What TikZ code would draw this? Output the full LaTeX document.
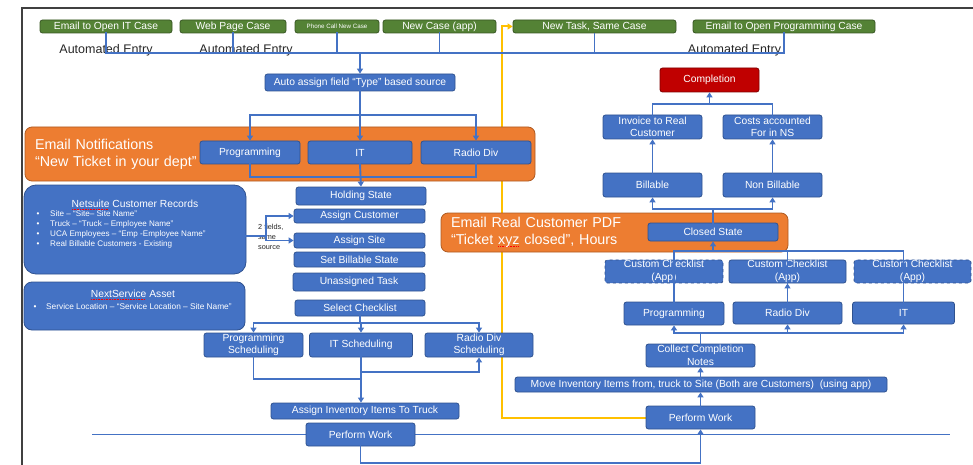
\documentclass[tikz,border=0pt]{standalone}
\usepackage{fontspec}
\setmainfont{Liberation Sans}
\usetikzlibrary{arrows.meta,backgrounds}
\definecolor{bfill}{HTML}{4472C4}
\definecolor{bborder}{HTML}{2F528F}
\definecolor{gfill}{HTML}{548235}
\definecolor{gborder}{HTML}{385723}
\definecolor{ofill}{HTML}{ED7D31}
\definecolor{oborder}{HTML}{AE5A21}
\definecolor{rfill}{HTML}{C00000}
\definecolor{rborder}{HTML}{7F0000}
\definecolor{lnc}{HTML}{4472C4}
\definecolor{yelc}{HTML}{FFC000}
\definecolor{framec}{HTML}{404040}
\definecolor{lblc}{HTML}{262626}
\newsavebox\spchkbox
\newcommand\spchk[1]{\sbox\spchkbox{#1}\rlap{\hbox to \wd\spchkbox{\color{red}\leaders\hbox to 1.6pt{\hss\rule[-2.4pt]{0.9pt}{0.8pt}\hss}\hfil}}\usebox\spchkbox}
\begin{document}
\begin{tikzpicture}[x=1pt,y=-1pt,
  box/.style={draw=bborder, fill=bfill, line width=0.8pt, rounded corners=2.5pt, text=white,
    font=\fontsize{10.3}{12.5}\selectfont, inner xsep=1pt, inner ysep=0.5pt, align=center},
  sz/.style n args={2}{minimum width=#1pt, minimum height=#2pt},
  gbox/.style={box, draw=gborder, fill=gfill},
  rbox/.style={box, draw=rborder, fill=rfill},
  dbox/.style={box, dashed},
  obox/.style={draw=oborder, fill=ofill, line width=0.8pt, rounded corners=7pt, text=white,
    font=\fontsize{14.3}{17}\selectfont, align=left, inner xsep=10pt, inner ysep=0pt},
  lbl/.style={text=lblc, font=\fontsize{12.5}{14}\selectfont, inner sep=0pt},
  small/.style={text=lblc, font=\fontsize{7.3}{10}\selectfont, inner sep=0pt, align=left},
  ln/.style={draw=lnc, line width=1.9pt, line cap=rect},
  thinln/.style={draw=lnc, line width=1pt},
  arr/.style={ln, -{Triangle[length=5pt,width=6pt]}},
  yel/.style={draw=yelc, line width=2pt, -{Triangle[length=5pt,width=6pt]}},
]
\useasboundingbox (0,0) rectangle (973,465);

% ---- top row
\node[gbox, sz={132}{13}] (g1) at (106,26.5) {Email to Open IT Case};
\node[gbox, sz={106}{13}] (g2) at (233,26.5) {Web Page Case};
\node[gbox, sz={84}{13}, font=\fontsize{6.2}{7}\selectfont] (g3) at (337,26.5) {Phone Call New Case};
\node[gbox, sz={113}{13}] (g4) at (439.5,26.5) {New Case (app)};
\node[gbox, sz={163}{13}] (g5) at (594.5,26.5) {New Task, Same Case};
\node[gbox, sz={182}{13}] (g6) at (784,26.5) {Email to Open Programming Case};

\node[lbl] (ae1) at (106,50) {Automated Entry};
\node[lbl] (ae2) at (246,50) {Automated Entry};
\node[lbl] (ae3) at (734.5,50) {Automated Entry};

\node[box, sz={190}{17}] (auto) at (360,82.5) {Auto assign field “Type” based source};

% ---- orange boxes
\node[obox, sz={510}{54}, text width=490pt] (en) at (280,154) {Email Notifications\\“New Ticket in your dept”};
\node[obox, sz={347}{39}, text width=327pt] (ercp) at (614.5,232.5) {Email Real Customer PDF\\“Ticket \spchk{xyz} closed”, Hours};

\node[box, sz={100}{23}] (prog1) at (250,152.5) {Programming};
\node[box, sz={104}{23}] (it1) at (360,152.5) {IT};
\node[box, sz={110}{23}] (radio1) at (476,152.5) {Radio Div};

% ---- left column
\node[box, sz={130}{18}] (hold) at (361,196) {Holding State};
\node[box, sz={131}{14}] (acust) at (359.5,216) {Assign Customer};
\node[box, sz={131}{15}] (asite) at (359.5,240.5) {Assign Site};
\node[box, sz={131}{15}] (setbill) at (359.5,259.5) {Set Billable State};
\node[box, sz={132}{18}] (unas) at (359,282) {Unassigned Task};
\node[box, sz={130}{16}] (selcl) at (360,308) {Select Checklist};

\node[box, rounded corners=12pt, sz={222}{89}] (ns) at (135,229.5) {};
\node[text=white, font=\fontsize{10.3}{12}\selectfont, inner sep=0pt, anchor=base] (nst) at (135,207) {\spchk{Netsuite} Customer Records};
\node[text=white, font=\fontsize{8.1}{10}\selectfont, inner sep=0pt, anchor=north west, align=left] (nsb) at (36.5,210.8)
 {\makebox[13.5pt][l]{•}Site – “Site– Site Name”\\
  \makebox[13.5pt][l]{•}Truck – “Truck – Employee Name”\\
  \makebox[13.5pt][l]{•}UCA Employees – “Emp -Employee Name”\\
  \makebox[13.5pt][l]{•}Real Billable Customers - Existing};

\node[box, rounded corners=8pt, sz={221}{48}] (nx) at (134.5,306) {};
\node[text=white, font=\fontsize{10.3}{12}\selectfont, inner sep=0pt, anchor=base] (nxt) at (133,297.5) {\spchk{NextService} Asset};
\node[text=white, font=\fontsize{8.3}{10}\selectfont, inner sep=0pt, anchor=north west, align=left] (nxb) at (33.5,303)
 {\makebox[12.5pt][l]{•}Service Location – “Service Location – Site Name”};

\node[small, anchor=north west] (twof) at (258,224.3) {2 fields,\\same\\source};

\node[box, sz={99}{24}] (ps) at (253.5,345) {Programming\\Scheduling};
\node[box, sz={103}{24}] (its) at (361,345) {IT Scheduling};
\node[box, sz={108}{24}] (rs) at (479,345) {Radio Div\\Scheduling};
\node[box, sz={188}{16}] (ainv) at (365,411) {Assign Inventory Items To Truck};
\node[box, sz={109}{23}] (perfL) at (360.5,434.5) {Perform Work};

% ---- right column
\node[box, sz={109}{23}] (perfR) at (700.5,417.5) {Perform Work};
\node[box, sz={372}{15}] (minv) at (701,384.5) {Move Inventory Items from, truck to Site (Both are Customers)~ (using app)};
\node[box, sz={109}{23}] (collect) at (700.5,355.5) {Collect Completion\\Notes};
\node[box, sz={100}{23}] (progR) at (674,313.5) {Programming};
\node[box, sz={109}{22}] (radioR) at (787.5,313) {Radio Div};
\node[box, sz={102}{22}] (itR) at (903.5,313) {IT};
\node[dbox, sz={118}{23}] (cc1) at (664,271.5) {Custom Checklist\\(App)};
\node[box, sz={117}{23}] (cc2) at (787.5,271.5) {Custom Checklist\\(App)};
\node[dbox, sz={117}{23}] (cc3) at (912.5,271.5) {Custom Checklist\\(App)};
\node[box, sz={130}{18}] (closed) at (713,232) {Closed State};
\node[box, sz={99}{24}] (bill) at (652.5,185) {Billable};
\node[box, sz={99}{24}] (nbill) at (772.5,185) {Non Billable};
\node[box, sz={99}{24}] (inv) at (652.5,127) {Invoice to Real\\Customer};
\node[box, sz={99}{24}] (costs) at (772.5,127) {Costs accounted\\For in NS};
\node[rbox, sz={99}{24}] (compl) at (709.5,80) {Completion};

% ---- helper coordinates
\coordinate (bus1) at (0,53);
\coordinate (bus2) at (0,115);
\coordinate (nsj) at (266,236);
\coordinate (bus3) at (0,323);
\coordinate (bus4) at (0,333);
\coordinate (bus5) at (0,251);
\coordinate (bus6) at (0,209);
\coordinate (bus7) at (0,104);
\coordinate (bus8) at (0,463);
\coordinate (ylx) at (502,0);

% ---- background lines
\begin{pgfonlayer}{background}
\draw[framec, line width=1.6pt] (22,465) -- (22,8) -- (973,8);
\draw[thinln] (92,434) -- (950,434);
\draw[yel] (perfR.west) -- (perfR.west -| ylx) |- (g5.west);
\end{pgfonlayer}

% ---- top connectors
\draw[ln] (g1.south) -- (g1.south |- bus1);
\draw[ln] (g2.south) -- (g2.south |- bus1);
\draw[ln] (g3.south) -- (g3.south |- bus1);
\draw[ln] (g4.south) -- (g4.south |- bus1);
\draw[thinln] (g5.south) -- (g5.south |- bus1);
\draw[ln] (g6.south) -- (g6.south |- bus1);
\draw[ln] (g1.south |- bus1) -- (g6.south |- bus1);
\draw[arr] (auto.north |- bus1) -- (auto.north);

\draw[ln] (auto.south) -- (auto.south |- bus2);
\draw[ln] (prog1.north |- bus2) -- (radio1.north |- bus2);
\draw[arr] (prog1.north |- bus2) -- (prog1.north);
\draw[arr] (it1.north |- bus2) -- (it1.north);
\draw[arr] (radio1.north |- bus2) -- (radio1.north);
\draw[ln] (prog1.south) -- ++(0,12.5) -| (radio1.south);
\draw[arr] (it1.south) -- (hold.north);

% ---- netsuite
\draw[ln] (ns.east |- nsj) -- (nsj);
\draw[ln] (nsj |- acust.west) -- (nsj |- asite.west);
\draw[arr] (nsj |- acust.west) -- (acust.west);
\draw[arr] (nsj |- asite.west) -- (asite.west);

% ---- scheduling
\draw[ln] (selcl.south) -- (selcl.south |- bus3);
\draw[ln] (ps.north |- bus3) -- (rs.north |- bus3);
\draw[arr] (ps.north |- bus3) -- (ps.north);
\draw[arr] (its.north |- bus3) -- (its.north);
\draw[arr] (rs.north |- bus3) -- (rs.north);
\draw[ln] (ps.south) -- ++(0,22) -| (its.south);
\draw[arr] (its.south) -- (its.south |- ainv.north);
\draw[arr] ([yshift=-15pt]its.south) -| (rs.south);
\draw[arr] (perfL.south) -- (perfL.south |- bus8) -| (perfR.south);

% ---- right connectors
\draw[arr] (perfR.north) -- (perfR.north |- minv.south);
\draw[arr] (collect.south |- minv.north) -- (collect.south);
\draw[ln] (collect.north) -- (collect.north |- bus4);
\draw[ln] (progR.south |- bus4) -- (itR.south |- bus4);
\draw[arr] (progR.south |- bus4) -- (progR.south);
\draw[arr] (radioR.south |- bus4) -- (radioR.south);
\draw[arr] (itR.south |- bus4) -- (itR.south);
\draw[ln] (progR.north) -- (progR.north |- bus5);
\draw[ln] (itR.north) -- (itR.north |- bus5);
\draw[ln] (progR.north |- bus5) -- (itR.north |- bus5);
\draw[arr] (radioR.north) -- (cc2.south);
\draw[ln] (cc2.south) -- (cc2.south |- bus5);
\draw[arr] (closed.south |- bus5) -- (closed.south);
\draw[ln] (closed.north) -- (closed.north |- bus6);
\draw[ln] (bill.south |- bus6) -- (nbill.south |- bus6);
\draw[arr] (bill.south |- bus6) -- (bill.south);
\draw[arr] (nbill.south |- bus6) -- (nbill.south);
\draw[arr] (bill.north) -- (inv.south);
\draw[arr] (nbill.north) -- (costs.south);
\draw[ln] (inv.north) -- (inv.north |- bus7) -| (costs.north);
\draw[arr] (compl.south |- bus7) -- (compl.south);
\end{tikzpicture}
\end{document}
